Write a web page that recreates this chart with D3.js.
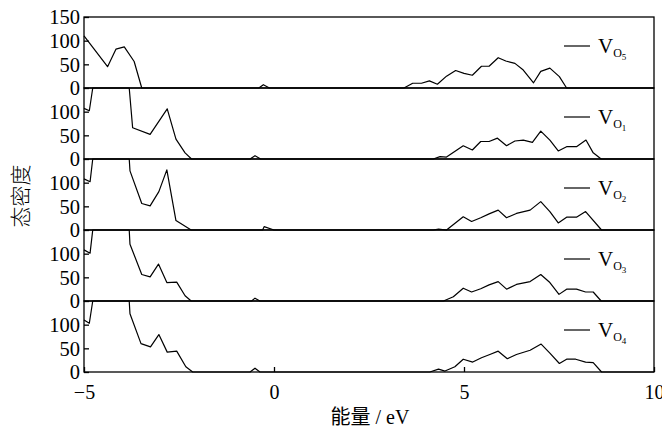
<!DOCTYPE html>
<html>
<head>
<meta charset="utf-8">
<script src="https://cdn.jsdelivr.net/npm/d3@7"></script>
<style>
  html, body { margin: 0; padding: 0; background: #fff; }
  svg { display: block; }
  text { font-family: "Liberation Serif", "Times New Roman", serif; fill: #000; }
</style>
</head>
<body>
<svg id="chart" width="662" height="433"></svg>
<script>
// ---------------- data ----------------
const energyDomain = [-5, 10];
const xTickValues = [-5, 0, 5, 10];
const yTicksTop = [0, 50, 100, 150];
const yTicksOther = [0, 50, 100];
const yDomain = [0, 150];

const seriesNames = ["5", "1", "2", "3", "4"]; // subscript of O in V_O?

const VO5 = [[-5,110],[-4.38,45],[-4.16,82],[-3.94,87],[-3.68,56],[-3.48,0],[-0.4,0],[-0.28,7],[-0.12,0],
  [3.42,0],[3.65,10],[3.88,10],[4.09,15],[4.30,8],[4.54,25],[4.78,37],[5.0,31],[5.22,27],[5.46,46],[5.66,46],
  [5.90,64],[6.10,57],[6.34,52],[6.56,38],[6.83,11],[7.02,35],[7.26,42],[7.51,24],[7.70,0],[10,0]];

const VO1 = [[-5,107],[-4.86,102],[-4.77,160],[-3.81,160],[-3.72,66],[-3.26,52],[-2.81,106],[-2.58,42],[-2.34,13],
  [-2.17,0],[-0.63,0],[-0.5,7],[-0.35,0],[4.19,0],[4.37,5],[4.54,4],[4.98,28],[5.22,19],[5.44,37],[5.66,37],
  [5.88,44],[6.12,28],[6.34,38],[6.56,40],[6.80,35],[7.02,59],[7.26,40],[7.48,17],[7.70,26],[7.96,26],
  [8.21,40],[8.40,13],[8.61,0],[10,0]];

const VO2 = [[-5,108],[-4.84,102],[-4.77,160],[-3.81,160],[-3.79,125],[-3.48,56],[-3.26,51],[-3.03,81],[-2.82,127],
  [-2.58,20],[-2.18,0],[-0.3,0],[-0.26,7],[0.0,0],[4.19,0],[4.33,2],[4.54,0],[4.98,28],[5.2,18],[5.44,26],
  [5.66,34],[5.9,42],[6.12,26],[6.38,35],[6.74,42],[7.02,60],[7.26,39],[7.48,15],[7.70,27],[7.96,27],
  [8.20,39],[8.62,0],[10,0]];

const VO3 = [[-5,108],[-4.84,101],[-4.77,160],[-3.81,160],[-3.79,120],[-3.48,56],[-3.26,51],[-3.04,78],[-2.82,39],
  [-2.56,40],[-2.34,11],[-2.18,0],[-0.59,0],[-0.5,6],[-0.37,0],[4.46,0],[4.72,9],[4.98,27],[5.2,19],[5.44,26],
  [5.66,34],[5.9,41],[6.12,25],[6.38,35],[6.74,41],[7.02,56],[7.26,39],[7.5,14],[7.70,25],[7.96,25],
  [8.2,19],[8.40,19],[8.61,0],[10,0]];

const VO4 = [[-5,110],[-4.86,103],[-4.77,160],[-3.81,160],[-3.79,123],[-3.5,60],[-3.25,53],[-3.03,79],[-2.81,42],
  [-2.56,44],[-2.32,11],[-2.14,0],[-0.63,0],[-0.5,8],[-0.37,0],[4.1,0],[4.33,6],[4.5,2],[4.76,11],[4.98,27],
  [5.23,21],[5.46,30],[5.68,37],[5.9,44],[6.14,28],[6.38,37],[6.74,46],[7.03,59],[7.26,40],[7.51,18],
  [7.70,27],[7.94,27],[8.2,21],[8.40,20],[8.62,0],[10,0]];

const seriesData = [VO5, VO1, VO2, VO3, VO4];

const xTitle = "能量 / eV";
const yTitle = "态密度";

// ---------------- layout ----------------
const W = 662, H = 433;
const mLeft = 84, mRight = 654, mTop = 17, panelH = 71;
const nPanels = seriesData.length;

const svg = d3.select("#chart");

const x = d3.scaleLinear().domain(energyDomain).range([mLeft, mRight]);

const makeLine = (y) => d3.line().x(d => x(d[0])).y(d => y(d[1]));

seriesData.forEach((data, i) => {
  const y0 = mTop + panelH * (i + 1);
  const y = d3.scaleLinear().domain(yDomain).range([y0, y0 - panelH]).clamp(true);
  const g = svg.append("g");

  // data line
  g.append("path")
    .datum(data)
    .attr("fill", "none")
    .attr("stroke", "#000")
    .attr("stroke-width", 1.2)
    .attr("stroke-linejoin", "round")
    .attr("d", makeLine(y));

  // frame
  g.append("rect")
    .attr("x", mLeft).attr("y", y0 - panelH)
    .attr("width", mRight - mLeft).attr("height", panelH)
    .attr("fill", "none").attr("stroke", "#000").attr("stroke-width", 1.3);

  // y axis
  const ya = g.append("g")
    .attr("transform", `translate(${mLeft},0)`)
    .call(d3.axisLeft(y).tickValues(i === 0 ? yTicksTop : yTicksOther)
      .tickSize(-5).tickPadding(4).tickFormat(d3.format("d")));
  ya.select(".domain").remove();
  ya.selectAll("line").attr("stroke-width", 1.3);
  ya.selectAll("text").attr("font-size", 20.5).attr("font-family", "Liberation Serif, serif")
    .attr("dy", "0.33em");

  // legend
  const ly = y0 - panelH + 29;
  g.append("line").attr("x1", 564).attr("x2", 590).attr("y1", ly).attr("y2", ly)
    .attr("stroke", "#000").attr("stroke-width", 1.2);
  const t = g.append("text").attr("x", 598).attr("y", ly + 7).attr("font-size", 21);
  t.append("tspan").text("V");
  t.append("tspan").attr("font-size", 12).attr("dy", 4).text("O");
  t.append("tspan").attr("font-size", 9).attr("dy", 3).text(seriesNames[i]);
});

// x axis
const bottomY = mTop + panelH * nPanels;
const xa = svg.append("g")
  .attr("transform", `translate(0,${bottomY})`)
  .call(d3.axisBottom(x).tickValues(xTickValues).tickSize(-5).tickPadding(13));
xa.select(".domain").remove();
xa.selectAll("line").attr("stroke-width", 1.3);
xa.selectAll("text").attr("font-size", 20).attr("font-family", "Liberation Serif, serif");

// axis titles
svg.append("text")
  .attr("x", 370).attr("y", 424)
  .attr("text-anchor", "middle")
  .attr("font-size", 20)
  .style("font-family", "'Liberation Serif', 'Noto Sans CJK SC', serif")
  .text(xTitle);

svg.append("text")
  .attr("transform", `translate(28,196) rotate(-90)`)
  .attr("text-anchor", "middle")
  .attr("font-size", 21)
  .attr("font-weight", 300)
  .style("font-family", "'Noto Sans CJK SC', sans-serif")
  .text(yTitle);
</script>
</body>
</html>
